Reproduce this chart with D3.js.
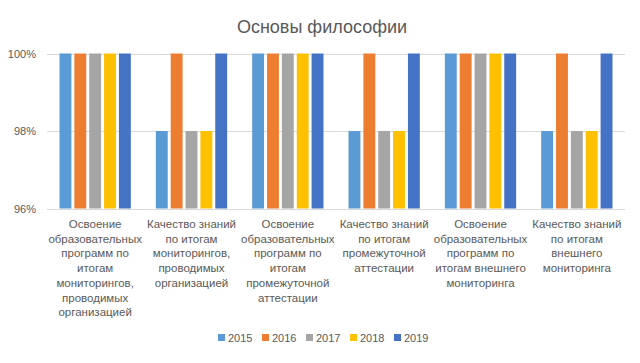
<!DOCTYPE html>
<html>
<head>
<meta charset="utf-8">
<script src="https://cdn.jsdelivr.net/npm/d3@7"></script>
<style>
  body { margin: 0; background: #fff; }
  text { font-family: "Liberation Sans", Arial, sans-serif; fill: #595959; }
</style>
</head>
<body>
<svg width="640" height="363"></svg>
<script>
var svg = d3.select("svg"),
    width = +svg.attr("width"),
    height = +svg.attr("height");

var title = "Основы философии";
var categories = [
  ["Освоение", "образовательных", "программ по", "итогам", "мониторингов,", "проводимых", "организацией"],
  ["Качество знаний", "по итогам", "мониторингов,", "проводимых", "организацией"],
  ["Освоение", "образовательных", "программ по", "итогам", "промежуточной", "аттестации"],
  ["Качество знаний", "по итогам", "промежуточной", "аттестации"],
  ["Освоение", "образовательных", "программ по", "итогам внешнего", "мониторинга"],
  ["Качество знаний", "по итогам", "внешнего", "мониторинга"]
];
var years = ["2015", "2016", "2017", "2018", "2019"];
var v2015 = [100, 98, 100, 98, 100, 98];
var v2016 = [100, 100, 100, 100, 100, 100];
var v2017 = [100, 98, 100, 98, 100, 98];
var v2018 = [100, 98, 100, 98, 100, 98];
var v2019 = [100, 100, 100, 100, 100, 100];
var yTicks = [96, 98, 100];
var colors = ["#5B9BD5", "#ED7D31", "#A5A5A5", "#FFC000", "#4472C4"];

var series = [v2015, v2016, v2017, v2018, v2019];

var x0 = d3.scaleBand()
    .domain(d3.range(categories.length))
    .range([47, 625])
    .paddingInner(0.26)
    .paddingOuter(0.13);

var x1 = d3.scaleBand()
    .domain(years)
    .range([0, x0.bandwidth()])
    .paddingInner(0.2);

var y = d3.scaleLinear()
    .domain([96, 100])
    .range([208.5, 53.5]);

// title
svg.append("text")
    .attr("x", width / 2 + 2)
    .attr("y", 33)
    .attr("text-anchor", "middle")
    .style("font-size", "18px")
    .text(title);

// gridlines
svg.append("g")
    .selectAll("line")
    .data(yTicks)
    .enter().append("line")
    .attr("x1", 47)
    .attr("x2", 625)
    .attr("y1", function(d) { return Math.round(y(d)) + 0.5; })
    .attr("y2", function(d) { return Math.round(y(d)) + 0.5; })
    .attr("stroke", "#d9d9d9")
    .attr("stroke-width", 1);

// y labels
svg.append("g")
    .selectAll("text")
    .data(yTicks)
    .enter().append("text")
    .attr("x", 36)
    .attr("y", function(d) { return y(d) + 4; })
    .attr("text-anchor", "end")
    .style("font-size", "11px")
    .text(function(d) { return d + "%"; });

// bars
var groups = svg.append("g")
    .selectAll("g")
    .data(categories)
    .enter().append("g")
    .attr("transform", function(d, i) { return "translate(" + x0(i) + ",0)"; });

groups.selectAll("rect")
    .data(function(d, i) {
        return years.map(function(yr, j) { return { year: yr, value: series[j][i], c: colors[j] }; });
    })
    .enter().append("rect")
    .attr("x", function(d) { return x1(d.year); })
    .attr("width", x1.bandwidth())
    .attr("y", function(d) { return y(d.value); })
    .attr("height", function(d) { return y(96) - y(d.value); })
    .attr("fill", function(d) { return d.c; });

// category labels
var labels = svg.append("g")
    .selectAll("text")
    .data(categories)
    .enter().append("text")
    .attr("text-anchor", "middle")
    .style("font-size", "11.5px");

labels.selectAll("tspan")
    .data(function(d, i) { return d.map(function(s) { return { s: s, i: i }; }); })
    .enter().append("tspan")
    .attr("x", function(d) { return x0(d.i) + x0.bandwidth() / 2; })
    .attr("y", function(d, k) { return 228 + k * 14.7; })
    .text(function(d) { return d.s; });

// legend
var legend = svg.append("g")
    .selectAll("g")
    .data(years)
    .enter().append("g")
    .attr("transform", function(d, i) { return "translate(" + (218 + i * 44) + ",334)"; });

legend.append("rect")
    .attr("width", 7)
    .attr("height", 7)
    .attr("fill", function(d, i) { return colors[i]; });

legend.append("text")
    .attr("x", 10)
    .attr("y", 8)
    .style("font-size", "11px")
    .text(function(d) { return d; });
</script>
</body>
</html>
